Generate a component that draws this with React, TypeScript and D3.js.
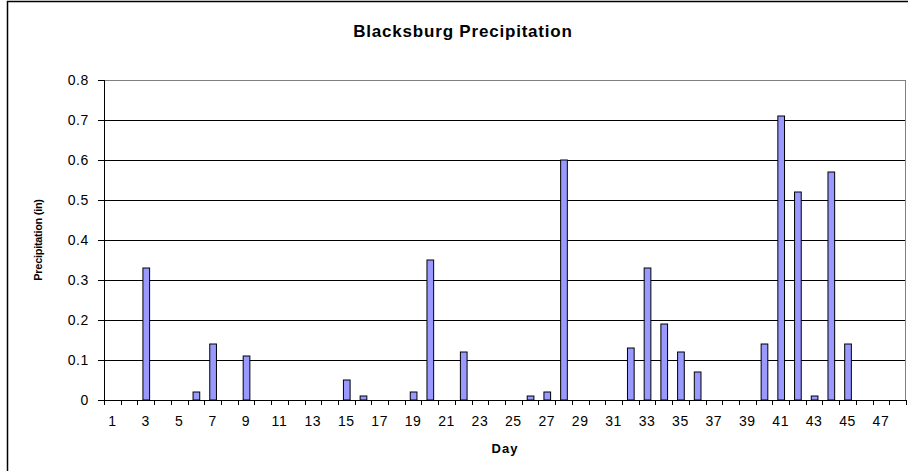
import * as d3 from "d3";
import { useEffect, useRef } from "react";

const days: number[] = d3.range(1, 49);
const precip: number[] = [
  0, 0, 0.33, 0, 0, 0.02, 0.14, 0, 0.11, 0,
  0, 0, 0, 0, 0.05, 0.01, 0, 0, 0.02, 0.35,
  0, 0.12, 0, 0, 0, 0.01, 0.02, 0.6, 0, 0,
  0, 0.13, 0.33, 0.19, 0.12, 0.07, 0, 0, 0, 0.14,
  0.71, 0.52, 0.01, 0.57, 0.14, 0, 0, 0,
];
const yTicks: number[] = [0, 0.1, 0.2, 0.3, 0.4, 0.5, 0.6, 0.7, 0.8];

const W = 908;
const H = 471;
const FONT = "'Liberation Sans', Arial, sans-serif";

const App = () => {
  const svgRef = useRef<SVGSVGElement>(null);

  useEffect(() => {
    const svgEl = svgRef.current;
    if (!svgEl) return;
    const svg = d3.select(svgEl);
    svg.selectAll("*").remove();

    const plot = { left: 104, right: 906, top: 80, bottom: 400 };

    const x = d3
      .scaleBand<number>()
      .domain(days)
      .range([plot.left, plot.right])
      .paddingInner(0.6)
      .paddingOuter(0.3);
    const y = d3.scaleLinear().domain([0, 0.8]).range([plot.bottom, plot.top]);
    const step = x.step();

    svg.append("rect").attr("width", W).attr("height", H).attr("fill", "#fff");

    // chart frame, cut off at the right and bottom of the picture
    svg
      .append("rect")
      .attr("x", 7.5)
      .attr("y", 1.5)
      .attr("width", 1000)
      .attr("height", 1000)
      .attr("fill", "none")
      .attr("stroke", "#000")
      .attr("stroke-width", 1.5);

    // gridlines (top one is the grey plot border)
    svg
      .selectAll("line.grid")
      .data(yTicks.filter((t) => t > 0))
      .enter()
      .append("line")
      .attr("x1", plot.left)
      .attr("x2", plot.right)
      .attr("y1", (t) => Math.round(y(t)) + 0.5)
      .attr("y2", (t) => Math.round(y(t)) + 0.5)
      .attr("stroke", (t) => (t === 0.8 ? "#808080" : "#000"));

    svg
      .append("line")
      .attr("x1", plot.right - 0.5)
      .attr("x2", plot.right - 0.5)
      .attr("y1", plot.top)
      .attr("y2", plot.bottom)
      .attr("stroke", "#808080");

    // bars
    svg
      .selectAll("rect.bar")
      .data(days.map((d, i) => ({ d, v: precip[i] })).filter((b) => b.v > 0))
      .enter()
      .append("rect")
      .attr("x", (b) => (x(b.d) ?? 0) + 0.5)
      .attr("y", (b) => y(b.v))
      .attr("width", x.bandwidth())
      .attr("height", (b) => plot.bottom - y(b.v))
      .attr("fill", "#9999FF")
      .attr("stroke", "#000");

    // y axis
    svg
      .append("line")
      .attr("x1", plot.left + 0.5)
      .attr("x2", plot.left + 0.5)
      .attr("y1", plot.top)
      .attr("y2", plot.bottom)
      .attr("stroke", "#000");
    svg
      .selectAll("line.ytick")
      .data(yTicks)
      .enter()
      .append("line")
      .attr("x1", plot.left - 6)
      .attr("x2", plot.left)
      .attr("y1", (t) => Math.round(y(t)) + 0.5)
      .attr("y2", (t) => Math.round(y(t)) + 0.5)
      .attr("stroke", "#000");
    svg
      .selectAll("text.ylab")
      .data(yTicks)
      .enter()
      .append("text")
      .attr("x", plot.left - 15)
      .attr("y", (t) => y(t))
      .attr("dy", "0.35em")
      .attr("text-anchor", "end")
      .style("font", `14px ${FONT}`)
      .style("letter-spacing", "0.6px")
      .text((t) => (t === 0 ? "0" : d3.format(".1f")(t)));

    // x axis
    svg
      .append("line")
      .attr("x1", plot.left)
      .attr("x2", plot.right)
      .attr("y1", plot.bottom + 0.5)
      .attr("y2", plot.bottom + 0.5)
      .attr("stroke", "#000");
    svg
      .selectAll("line.xtick")
      .data(d3.range(days.length + 1))
      .enter()
      .append("line")
      .attr("x1", (i) => Math.round(plot.left + i * step) + 0.5)
      .attr("x2", (i) => Math.round(plot.left + i * step) + 0.5)
      .attr("y1", plot.bottom)
      .attr("y2", plot.bottom + 5)
      .attr("stroke", "#000");
    svg
      .selectAll("text.xlab")
      .data(days.filter((d) => d % 2 === 1))
      .enter()
      .append("text")
      .attr("x", (d) => (x(d) ?? 0) + x.bandwidth() / 2)
      .attr("y", plot.bottom + 26)
      .attr("text-anchor", "middle")
      .style("font", `14px ${FONT}`)
      .style("letter-spacing", "0.6px")
      .text((d) => String(d));

    // titles
    svg
      .append("text")
      .attr("x", 463)
      .attr("y", 37)
      .attr("text-anchor", "middle")
      .style("font", `bold 17px ${FONT}`)
      .style("letter-spacing", "0.8px")
      .text("Blacksburg Precipitation");
    svg
      .append("text")
      .attr("x", (plot.left + plot.right) / 2)
      .attr("y", 453)
      .attr("text-anchor", "middle")
      .style("font", `bold 13px ${FONT}`)
      .style("letter-spacing", "1px")
      .text("Day");
    svg
      .append("text")
      .attr("transform", `translate(42,${(plot.top + plot.bottom) / 2}) rotate(-90)`)
      .attr("text-anchor", "middle")
      .style("font", `bold 11px ${FONT}`)
      .style("letter-spacing", "-0.3px")
      .text("Precipitation (in)");
  }, []);

  return (
    <svg
      ref={svgRef}
      width={W}
      height={H}
      style={{ position: "fixed", left: 0, top: 0, display: "block" }}
    />
  );
};

export default App;
